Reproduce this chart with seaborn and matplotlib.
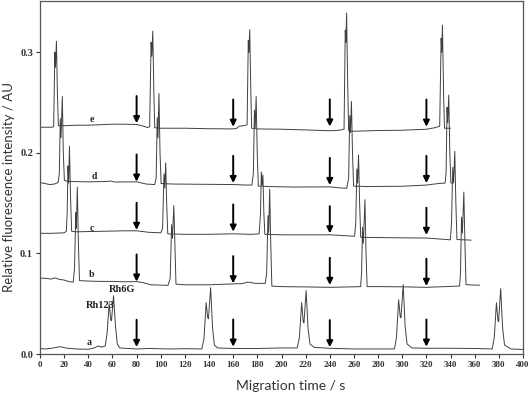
import matplotlib
matplotlib.use("Agg")
import matplotlib.pyplot as plt
import seaborn as sns
import numpy as np
import pandas as pd

# ---------------- data ----------------
a_t = [0, 5, 10, 16.6, 22, 30, 40, 45, 48, 51, 54, 55.5, 57.3, 58.6, 59.2, 60.9, 62.5, 64, 66,
       80, 90, 100, 110, 120, 134, 135.8, 137.6, 138.9, 139.5, 141.3, 142.9, 144.4, 147,
       160, 180, 200, 213, 214.8, 216.7, 218, 218.6, 220.4, 222, 223.6, 227,
       240, 260, 280, 293.5, 295.2, 297, 298.3, 298.9, 300.8, 302.4, 304, 308,
       320, 340, 360, 374.5, 376.2, 378, 379.3, 379.8, 381.5, 383.1, 384.7, 390, 400]
a_y = [0.0055, 0.005, 0.0058, 0.0073, 0.0058, 0.005, 0.0047, 0.006, 0.008, 0.0068, 0.008, 0.02, 0.050, 0.034, 0.033, 0.058, 0.028, 0.010, 0.006,
       0.005, 0.0055, 0.0052, 0.005, 0.0053, 0.005, 0.015, 0.051, 0.036, 0.035, 0.066, 0.026, 0.009, 0.006,
       0.0055, 0.0055, 0.006, 0.006, 0.016, 0.051, 0.032, 0.031, 0.063, 0.025, 0.010, 0.0066,
       0.0057, 0.005, 0.005, 0.005, 0.016, 0.054, 0.037, 0.036, 0.069, 0.027, 0.010, 0.006,
       0.0057, 0.0057, 0.0055, 0.005, 0.016, 0.051, 0.033, 0.032, 0.065, 0.026, 0.009, 0.005, 0.0045]

b_t = [0, 5, 9, 12.4, 15, 20, 24, 27.5, 28.6, 29.6, 30.1, 30.9, 31.8, 32.7, 40, 50, 60, 70, 80, 85, 92, 100, 106,
       107.8, 109, 109.7, 110.8, 111.7, 112.6, 120, 140, 160, 168, 171, 175, 177, 186.5,
       187.7, 188.8, 189.4, 190.2, 191.1, 192, 200, 220, 240, 260, 265.5,
       266.3, 267.1, 267.8, 269.1, 270, 270.9, 280, 300, 320, 340, 347.5,
       348.2, 349.1, 349.8, 351, 351.9, 352.8, 358, 364]
b_y = [0.0755, 0.0752, 0.0745, 0.0757, 0.0745, 0.0735, 0.072, 0.0715, 0.085, 0.1405, 0.125, 0.166, 0.11, 0.073, 0.0725, 0.0722, 0.0722, 0.0718, 0.072, 0.071, 0.0688, 0.0685, 0.0683,
       0.075, 0.1286, 0.115, 0.1475, 0.11, 0.0695, 0.0688, 0.0688, 0.0697, 0.070, 0.0713, 0.0712, 0.0703, 0.0702,
       0.08, 0.1376, 0.12, 0.164, 0.11, 0.0675, 0.067, 0.0667, 0.0663, 0.0668, 0.067,
       0.08, 0.126, 0.11, 0.1535, 0.10, 0.067, 0.067, 0.0668, 0.0663, 0.0672, 0.0676,
       0.08, 0.136, 0.12, 0.161, 0.11, 0.069, 0.0686, 0.0684]

c_t = [0, 10, 20, 21.8, 22.5, 23.2, 23.7, 24.4, 25.2, 26.2, 30, 50, 70, 80, 90, 100,
       101.5, 102.7, 103.3, 104.1, 104.9, 105.8, 120, 140, 160, 175, 181.5,
       182.6, 183.3, 183.9, 184.6, 185.4, 186.2, 200, 220, 240, 255, 260.5,
       261.5, 262.4, 263, 263.8, 264.7, 265.6, 280, 300, 320, 335, 339.8,
       340.8, 341.8, 342.5, 343.5, 344.4, 345.3, 350, 357]
c_y = [0.120, 0.120, 0.1205, 0.122, 0.14, 0.187, 0.17, 0.2065, 0.16, 0.122, 0.1215, 0.122, 0.1225, 0.1225, 0.121, 0.1205,
       0.125, 0.179, 0.165, 0.19, 0.15, 0.1195, 0.119, 0.119, 0.1195, 0.119, 0.1195,
       0.14, 0.181, 0.168, 0.178, 0.14, 0.119, 0.1185, 0.1185, 0.1185, 0.1175, 0.117,
       0.13, 0.184, 0.17, 0.198, 0.15, 0.116, 0.1158, 0.1155, 0.1153, 0.114, 0.1135,
       0.13, 0.1856, 0.17, 0.2015, 0.15, 0.1138, 0.1136, 0.1132]

d_t = [0, 4, 8, 12, 15, 16, 16.8, 17.4, 18.5, 19.3, 20.2, 25, 40, 55, 58, 62, 80, 88, 95,
       96.2, 97.1, 97.7, 98.5, 99.4, 100.3, 110, 130, 160, 170, 175.5,
       176.7, 177.6, 178.2, 179, 179.9, 180.8, 190, 210, 240, 248, 254,
       255.6, 256.5, 257.1, 257.9, 258.8, 259.7, 270, 300, 320, 330, 335.5,
       336.3, 337.1, 337.7, 338.5, 339.4, 340.3, 341]
d_y = [0.1705, 0.1695, 0.1685, 0.169, 0.1705, 0.18, 0.234, 0.215, 0.256, 0.20, 0.1725, 0.1715, 0.1712, 0.1715, 0.172, 0.171, 0.1712, 0.169, 0.1685,
       0.175, 0.235, 0.215, 0.259, 0.20, 0.1695, 0.169, 0.1688, 0.1685, 0.168, 0.168,
       0.18, 0.2426, 0.225, 0.256, 0.20, 0.167, 0.1665, 0.166, 0.1662, 0.1652, 0.1648,
       0.175, 0.237, 0.22, 0.2512, 0.20, 0.167, 0.1665, 0.1668, 0.168, 0.1695, 0.170,
       0.18, 0.2453, 0.23, 0.2575, 0.20, 0.170, 0.170]

e_t = [0, 5, 10, 11.3, 12.3, 12.8, 13.6, 14.4, 15.2, 20, 30, 40, 50, 60, 70, 80, 85, 89,
       90.8, 92, 92.6, 93.4, 94.3, 95, 100, 120, 140, 160, 163, 165, 170, 171.5,
       172.5, 173, 173.7, 174.6, 175.3, 180, 200, 220, 240, 248, 251.8,
       252.8, 253.3, 253.9, 254.8, 255.6, 260, 280, 300, 320, 327, 331,
       332.2, 332.7, 333.3, 334.2, 335, 340]
e_y = [0.2255, 0.2255, 0.2255, 0.226, 0.300, 0.285, 0.311, 0.26, 0.227, 0.227, 0.2275, 0.2275, 0.228, 0.2285, 0.2285, 0.2282, 0.2268, 0.2252,
       0.226, 0.310, 0.296, 0.321, 0.26, 0.225, 0.2245, 0.2245, 0.224, 0.2238, 0.2245, 0.2265, 0.2272, 0.228,
       0.312, 0.30, 0.3224, 0.26, 0.2245, 0.2238, 0.2235, 0.2228, 0.222, 0.2225, 0.2235,
       0.322, 0.31, 0.339, 0.27, 0.222, 0.2215, 0.2222, 0.2225, 0.2235, 0.225, 0.2265,
       0.314, 0.30, 0.327, 0.26, 0.2245, 0.2245]

trace_names = ["a", "b", "c", "d", "e"]
label_x = [40.8, 42.8, 43.3, 44.7, 42.8]
label_y = [0.0112, 0.0786, 0.125, 0.1764, 0.2335]

arrow_times = [80, 160, 240, 320]
arrow_tips = {
    "a": [0.0070, 0.0073, 0.0067, 0.0073],
    "b": [0.0720, 0.0703, 0.0687, 0.0677],
    "c": [0.1234, 0.1217, 0.1200, 0.1184],
    "d": [0.1714, 0.1700, 0.1680, 0.1700],
    "e": [0.2295, 0.2260, 0.2262, 0.2260],
}
arrow_len = 0.027

peak_names = ["Rh123", "Rh6G"]
peak_label_x = [50.2, 67.6]
peak_label_y = [0.0478, 0.0644]

x_ticks = list(range(0, 401, 20))
y_ticks = [0.0, 0.1, 0.2, 0.3]
y_tick_labels = ["0.0", "0.1", "0.2", "0.3"]

# ---------------- plot ----------------
sns.set_style("ticks")
plt.rcParams["font.family"] = ["Lato", "DejaVu Sans"]

fig = plt.figure(figsize=(5.28, 3.96), dpi=100)
ax = fig.add_axes([40 / 528, 1 - 354 / 396, 483 / 528, 353 / 396])

traces = {"a": (a_t, a_y), "b": (b_t, b_y), "c": (c_t, c_y), "d": (d_t, d_y), "e": (e_t, e_y)}
for name in trace_names:
    t, y = traces[name]
    df = pd.DataFrame({"t": t, "y": y})
    sns.lineplot(data=df, x="t", y="y", ax=ax, color="#404040", linewidth=0.7,
                 estimator=None, sort=False)

serif = dict(family="Liberation Serif", fontweight="bold")
for name, lx, ly in zip(trace_names, label_x, label_y):
    ax.text(lx, ly, name, ha="center", va="center", fontsize=7, color="#222222", **serif)
    for at, tip in zip(arrow_times, arrow_tips[name]):
        ax.annotate("", xy=(at, tip), xytext=(at, tip + arrow_len),
                    arrowprops=dict(arrowstyle="-|>", color="black", lw=1.4,
                                    mutation_scale=9, shrinkA=0, shrinkB=0))

for pn, px, py in zip(peak_names, peak_label_x, peak_label_y):
    ax.text(px, py, pn, ha="center", va="center", fontsize=7.5, color="#222222", **serif)

ax.set_xlim(0, 400)
ax.set_ylim(0, 0.351)
ax.set_xticks(x_ticks)
ax.set_xticklabels([str(v) for v in x_ticks], fontsize=6.5, **serif)
ax.set_yticks(y_ticks)
ax.set_yticklabels(y_tick_labels, fontsize=7.5, **serif)
ax.tick_params(axis="both", direction="out", length=3, width=0.8, color="#333333", pad=2,
               labelcolor="#333333")

for sp in ax.spines.values():
    sp.set_visible(True)
    sp.set_color("#555555")
    sp.set_linewidth(0.9)

ax.set_xlabel("Migration time / s", fontsize=10, color="#333333")
ax.set_ylabel("Relative fluorescence intensity / AU", fontsize=9.5, color="#333333")
ax.xaxis.label.set_verticalalignment("center")
ax.yaxis.label.set_verticalalignment("center")
ax.xaxis.set_label_coords(0.518, -0.09)
ax.yaxis.set_label_coords(-0.064, 0.474)

fig.savefig("out.png", dpi=100)
